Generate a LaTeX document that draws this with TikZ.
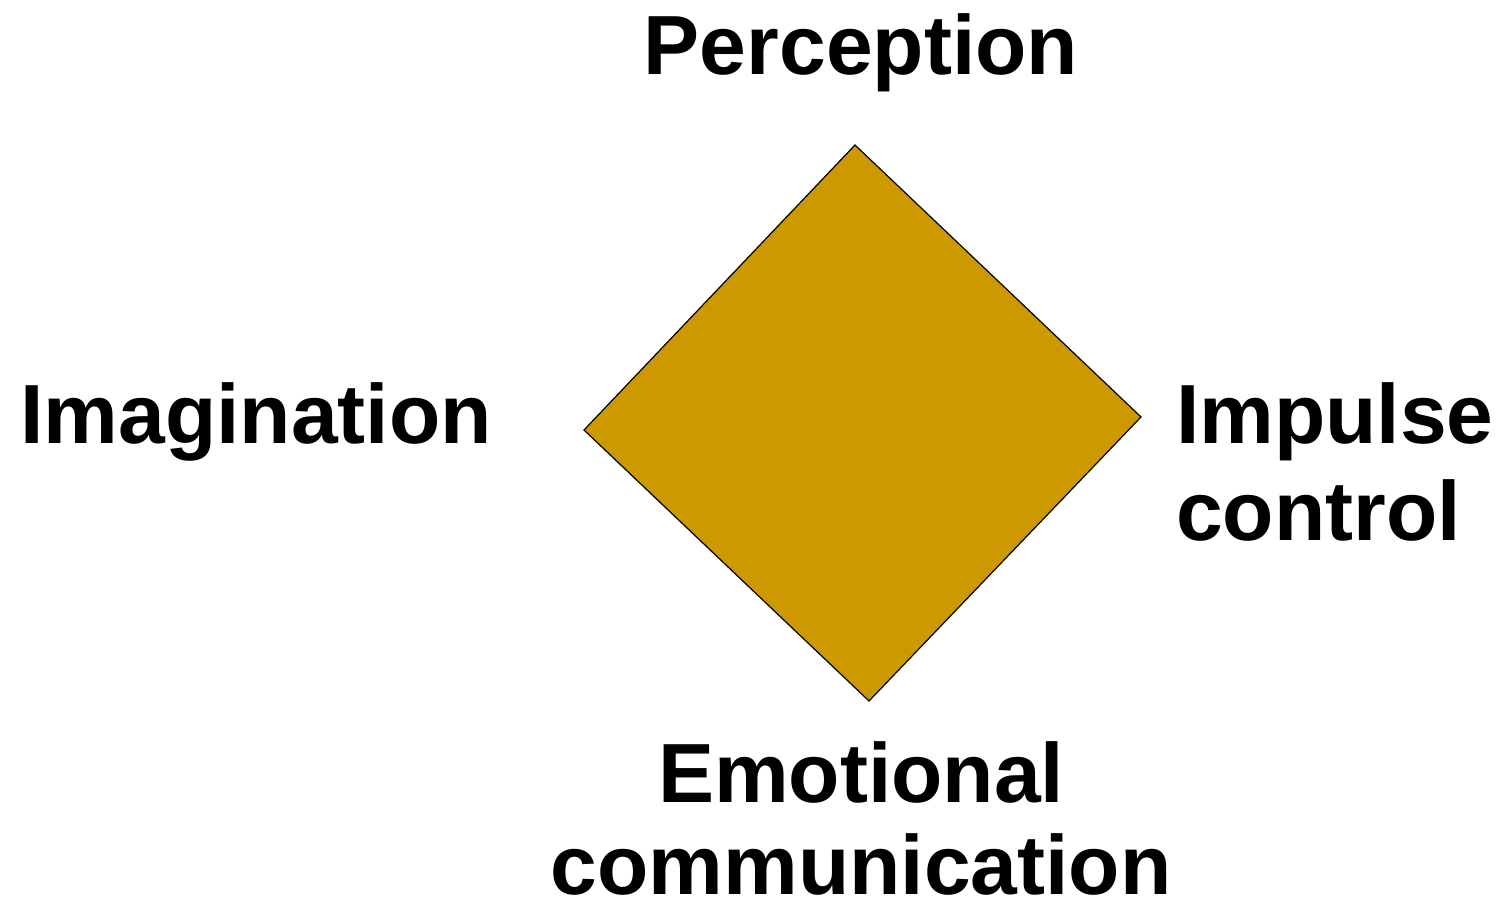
\documentclass[tikz,border=0pt]{standalone}
\usepackage{fontspec}
\setmainfont{Liberation Sans}
\definecolor{gold}{HTML}{CC9900}
\begin{document}
\begin{tikzpicture}[x=0.5pt,y=-0.5pt,
  lbl/.style={font=\fontsize{42}{48}\selectfont\bfseries, inner sep=0pt, outer sep=0pt}]
\useasboundingbox (0,0) rectangle (1504,904);
\coordinate (t) at (855,145);
\coordinate (r) at (1141,417);
\coordinate (b) at (869,701);
\coordinate (l) at (584,430);
\filldraw[fill=gold, draw=black, line width=0.6pt, line join=miter] (t) -- (r) -- (b) -- (l) -- cycle;
\node[lbl, anchor=base] (perc) at (861,75) {Perception};
\node[lbl, anchor=base] (imag) at (256,443) {Imagination};
\node[lbl, anchor=base west, align=left] (imp) at (1176,443) {Impulse};
\node[lbl, anchor=base west, align=left] (ctrl) at (1176,540) {control};
\node[lbl, anchor=base] (emo) at (861,802) {Emotional};
\node[lbl, anchor=base, text depth=0pt] (comm) at (861,894) {communication};
\end{tikzpicture}
\end{document}
